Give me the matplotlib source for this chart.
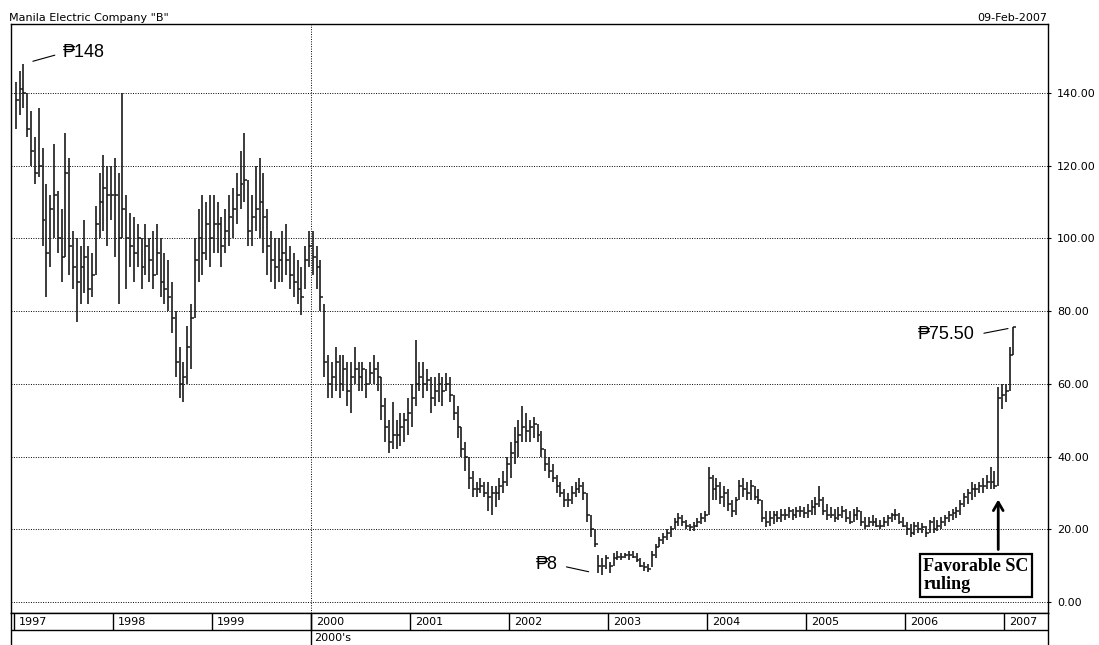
import numpy as np
import matplotlib
matplotlib.use("Agg")
import matplotlib.pyplot as plt

# two-week bars: high / low / close per year
years = [1997, 1998, 1999, 2000, 2001, 2002, 2003, 2004, 2005, 2006, 2007]

hi_1997 = [143, 146, 148, 140, 135, 128, 136, 125, 115, 112, 126, 113, 108, 129, 122, 102, 100, 98, 105, 98, 96, 109, 118, 123, 120, 120]
lo_1997 = [130, 134, 136, 128, 120, 115, 117, 98, 84, 92, 100, 96, 88, 95, 90, 86, 77, 82, 85, 82, 84, 90, 100, 102, 98, 105]
cl_1997 = [138, 141, 140, 130, 124, 118, 120, 105, 96, 108, 112, 100, 95, 118, 98, 92, 88, 92, 95, 86, 90, 104, 110, 114, 112, 112]

hi_1998 = [122, 118, 140, 112, 107, 106, 104, 100, 104, 100, 102, 104, 100, 96, 94, 88, 80, 70, 66, 76, 82, 100, 108, 112, 110, 112]
lo_1998 = [95, 82, 100, 86, 92, 88, 92, 86, 90, 88, 86, 90, 84, 82, 80, 74, 62, 56, 55, 60, 64, 78, 88, 90, 94, 92]
cl_1998 = [112, 100, 108, 100, 98, 96, 100, 92, 98, 94, 90, 96, 88, 86, 84, 78, 66, 60, 62, 70, 78, 94, 100, 96, 104, 100]

hi_1999 = [112, 110, 106, 108, 112, 114, 118, 124, 129, 116, 112, 120, 122, 118, 108, 102, 100, 100, 102, 104, 98, 96, 94, 92, 98, 102]
lo_1999 = [96, 96, 92, 96, 98, 100, 104, 108, 110, 98, 98, 102, 100, 96, 90, 88, 86, 88, 88, 90, 86, 84, 82, 79, 86, 92]
cl_1999 = [104, 104, 98, 102, 106, 108, 112, 115, 116, 102, 106, 108, 110, 106, 98, 94, 92, 94, 96, 94, 90, 88, 86, 84, 94, 98]

hi_2000 = [102, 98, 94, 82, 68, 66, 70, 68, 68, 66, 66, 70, 66, 66, 64, 66, 68, 66, 62, 56, 50, 55, 50, 52, 52, 56]
lo_2000 = [90, 86, 80, 62, 56, 56, 58, 56, 58, 54, 52, 60, 58, 58, 56, 60, 60, 58, 50, 44, 41, 42, 42, 43, 44, 46]
cl_2000 = [95, 92, 84, 66, 60, 62, 66, 60, 64, 58, 62, 64, 62, 64, 60, 63, 64, 62, 54, 48, 44, 46, 46, 48, 50, 52]

hi_2001 = [60, 72, 66, 66, 64, 62, 62, 63, 62, 63, 62, 57, 54, 48, 44, 40, 36, 33, 34, 33, 33, 32, 32, 34, 36, 40]
lo_2001 = [48, 54, 58, 56, 58, 52, 54, 55, 54, 58, 55, 50, 45, 40, 36, 31, 29, 29, 30, 29, 25, 24, 26, 28, 30, 32]
cl_2001 = [56, 60, 62, 60, 61, 56, 58, 60, 58, 60, 57, 52, 48, 42, 40, 34, 31, 31, 32, 30, 29, 30, 30, 32, 33, 38]

hi_2002 = [44, 48, 50, 54, 52, 50, 51, 49, 47, 42, 40, 38, 35, 33, 31, 30, 32, 33, 34, 33, 30, 24, 20, 13, 12, 13]
lo_2002 = [34, 38, 40, 44, 44, 44, 45, 44, 40, 36, 34, 33, 30, 29, 26, 26, 27, 29, 30, 28, 22, 18, 15, 8, 7.5, 9]
cl_2002 = [41, 44, 46, 48, 47, 48, 49, 46, 42, 38, 36, 34, 32, 30, 28, 28, 30, 31, 32, 30, 24, 20, 16, 10, 10, 12]

hi_2003 = [11, 13.5, 14, 13.5, 13.5, 14, 14, 13.5, 12, 11, 10.5, 14, 16, 18, 19, 20, 21, 23, 24.5, 24, 22.5, 21.5, 22, 23, 24.5, 25]
lo_2003 = [8, 10, 11.5, 11.5, 12, 11.5, 12, 11, 9.5, 8.5, 8.3, 9.5, 12, 15, 16, 17, 18, 20, 21, 21, 20, 19.5, 19.5, 20.5, 21.5, 22]
cl_2003 = [10, 12, 12.5, 12.5, 13, 13, 12.5, 11.5, 10, 9.5, 9, 13, 15, 17, 18, 19, 20, 22, 23, 22, 21, 20.5, 21, 22, 23, 24]

hi_2004 = [37, 35, 34, 33, 32, 31, 28, 29, 33.5, 34, 33, 33.5, 32, 31, 28, 25, 25, 25, 25, 25.5, 25.5, 26, 25.5, 26, 26.5, 26]
lo_2004 = [24, 28, 28, 27, 26, 25, 23.5, 24, 28, 29, 28, 28, 28, 27, 22, 20.5, 21, 21.5, 22, 22, 22.5, 23, 22.5, 23, 23.5, 23]
cl_2004 = [34, 31, 32, 29, 30, 27, 25, 28, 32, 31, 30, 32, 29, 28, 23, 22, 23, 24, 23, 24, 24, 25, 24, 25, 25, 24.5]

hi_2005 = [27, 28, 29, 32, 29, 27, 26, 25.5, 26, 26.5, 25.5, 25, 25.5, 26, 25, 23.5, 23.5, 24, 23, 22.5, 23.5, 24, 24.5, 25.5, 24.5, 23.5]
lo_2005 = [23, 24, 24, 26, 24, 22.5, 23, 22, 22.5, 23, 22, 21.5, 22, 22.5, 21, 20, 20.5, 21, 20.5, 20, 20.5, 21, 22, 22.5, 21.5, 20.5]
cl_2005 = [25, 26, 27, 28, 25, 24, 24, 23, 24, 25, 23, 22, 24, 25, 22, 21, 22, 22, 21, 21, 22, 23, 24, 24, 22, 21]

hi_2006 = [22, 21.5, 22, 22, 21.7, 21, 22.5, 23.4, 22.5, 23.5, 24, 25, 25.5, 26, 28, 30, 31, 33, 32.5, 33, 34, 35, 37, 36, 59, 60]
lo_2006 = [18.5, 18, 18.5, 19, 19, 18, 19, 19, 19.5, 20, 21, 22, 22.5, 23, 24, 26, 27, 28, 29, 30, 30, 31, 31, 31, 32, 53]
cl_2006 = [20, 19, 21, 20, 20.5, 19, 22, 20, 21, 22, 23, 24, 24.5, 25, 27, 29, 30, 31, 31, 32, 32, 33, 33, 32, 56, 57]

hi_2007 = [60, 70, 75.5]
lo_2007 = [55, 58, 68]
cl_2007 = [58, 68, 75.5]

price_ticks = [0, 20, 40, 60, 80, 100, 120, 140]

highs = [hi_1997, hi_1998, hi_1999, hi_2000, hi_2001, hi_2002, hi_2003, hi_2004, hi_2005, hi_2006, hi_2007]
lows = [lo_1997, lo_1998, lo_1999, lo_2000, lo_2001, lo_2002, lo_2003, lo_2004, lo_2005, lo_2006, lo_2007]
closes = [cl_1997, cl_1998, cl_1999, cl_2000, cl_2001, cl_2002, cl_2003, cl_2004, cl_2005, cl_2006, cl_2007]

xs = []
for yr, h in zip(years, highs):
    xs.append(yr + (np.arange(len(h)) + 0.5) / 26)
x = np.concatenate(xs)
hi = np.concatenate(highs)
lo = np.concatenate(lows)
cl = np.concatenate(closes)

W, H = 1099, 645
fig = plt.figure(figsize=(W / 100, H / 100), dpi=100)
fx = lambda px: px / W
fy = lambda py: 1 - py / H

X0, X1 = 1996.97, 2007.445
ax = fig.add_axes([fx(11), fy(613), fx(1048) - fx(11), fy(24) - fy(613)])
ax.set_xlim(X0, X1)
ax.set_ylim(-3.03, 158.97)

bar_col = "#1a1a1a"
ax.vlines(x, lo, hi, color=bar_col, lw=1.2, zorder=3)
ax.hlines(cl, x, x + 0.03, color=bar_col, lw=1.1, zorder=3)

dot = (0, (1, 1.5))
ax.set_yticks(price_ticks)
ax.yaxis.grid(True, ls=dot, color="k", lw=0.7)
ax.axvline(2000, ls=dot, color="k", lw=0.7)
ax.set_xticks([])
ax.yaxis.tick_right()
ax.set_yticklabels([f"{v:.2f}" for v in price_ticks])
ax.tick_params(axis="y", length=2, pad=4.5, labelsize=8, colors="k")
for s in ax.spines.values():
    s.set_linewidth(1)

# annotations
ann_font = ["Liberation Sans", "DejaVu Sans"]
ip = int(np.argmax(hi))
ax.annotate("₱148", xy=(x[ip], hi[ip]), xytext=(28.4, 7.9), textcoords="offset points",
            ha="left", va="center", fontsize=13, family=ann_font,
            arrowprops=dict(arrowstyle="-", lw=0.8, color="k", relpos=(0, 0.5), shrinkA=4, shrinkB=7))
il = int(np.argmin(lo))
ax.annotate("₱8", xy=(x[il], lo[il]), xytext=(-32, 7), textcoords="offset points",
            ha="right", va="center", fontsize=13, family=ann_font,
            arrowprops=dict(arrowstyle="-", lw=0.8, color="k", relpos=(1, 0.5), shrinkA=4.3, shrinkB=10))
ax.annotate("₱75.50", xy=(x[-1], hi[-1]), xytext=(-27.7, -5.4), textcoords="offset points",
            ha="right", va="center", fontsize=13, family=ann_font,
            arrowprops=dict(arrowstyle="-", lw=0.8, color="k", relpos=(1, 0.5), shrinkA=4.5, shrinkB=4))

# SC ruling: vertical arrow under the jump bar, boxed note below it
ij = int(np.argmax(np.diff(cl))) + 1
ax.annotate("", xy=(x[ij], lo[ij]), xytext=(0, -46), textcoords="offset points",
            arrowprops=dict(arrowstyle="->,head_length=0.6,head_width=0.35", lw=2, color="k",
                            shrinkA=0, shrinkB=10))
ax.annotate("Favorable SC\nruling", xy=(x[ij], lo[ij]), xytext=(-54, -64.8), textcoords="offset points",
            ha="left", va="center", fontsize=13, fontweight="bold",
            family=["Liberation Serif", "DejaVu Serif"], linespacing=1.1,
            bbox=dict(boxstyle="square,pad=0.2", fc="white", ec="k", lw=1.6))

# year band below the plot
bx = fig.add_axes([fx(11), 0, fx(1048) - fx(11), (H - 613) / H])
bx.set_xlim(X0, X1)
bx.set_ylim(32, 0)
bx.set_xticks([]); bx.set_yticks([])
bx.spines["bottom"].set_visible(False)
for s in bx.spines.values():
    s.set_linewidth(1)
bx.axhline(17, color="k", lw=1)
bx.vlines(years, 0, 17, color="k", lw=1)
bx.vlines([2000], 0, 32, color="k", lw=1)
for yr in years:
    bx.text(yr + 0.05, 9, str(yr), fontsize=8, va="center", ha="left")
bx.text(2000.03, 25, "2000's", fontsize=8, va="center", ha="left")

fig.text(fx(9), fy(21), 'Manila Electric Company "B"', fontsize=8, va="baseline", ha="left")
fig.text(fx(1047), fy(21), "09-Feb-2007", fontsize=8, va="baseline", ha="right")

fig.savefig("out.png", dpi=100)
